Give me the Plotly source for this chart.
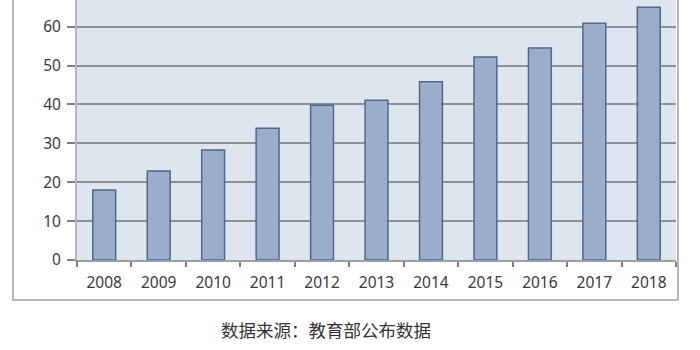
import plotly.graph_objects as go

years = ["2008", "2009", "2010", "2011", "2012", "2013", "2014", "2015", "2016", "2017", "2018"]
values = [18.0, 22.9, 28.3, 33.9, 39.8, 41.1, 45.8, 52.2, 54.5, 60.9, 65.0]
y_ticks = [0, 10, 20, 30, 40, 50, 60]
source_text = "数据来源：教育部公布数据"

fig = go.Figure()
fig.add_trace(go.Bar(
    x=years, y=values,
    width=0.42,
    marker=dict(color="#9aaecb", line=dict(color="#4d6a8c", width=1.5)),
    hoverinfo="x+y",
))

fig.update_layout(
    width=700, height=350,
    margin=dict(l=77, r=24, t=0, b=90),
    paper_bgcolor="white",
    plot_bgcolor="#dfe5ee",
    showlegend=False,
    font=dict(family="Noto Sans, Open Sans, sans-serif", size=15, color="#3a3a3a"),
    xaxis=dict(
        type="category",
        showgrid=False,
        showline=True, linecolor="#9a9ea6", linewidth=1.5,
        ticks="outside", ticklen=5, tickcolor="#7a7e86", tickwidth=1.5,
        tickson="boundaries",
        tickfont=dict(size=15.5),
        ticklabelstandoff=8,
        fixedrange=True,
    ),
    yaxis=dict(
        range=[0, 66.85],
        tickvals=y_ticks,
        showgrid=True, gridcolor="#8c9099", gridwidth=1.5,
        showline=True, linecolor="#b3b7be", linewidth=2,
        ticks="outside", ticklen=8, tickcolor="#7a7e86", tickwidth=1.5,
        tickfont=dict(size=15.5),
        ticklabelstandoff=3,
        zeroline=False,
        fixedrange=True,
    ),
    shapes=[dict(
        type="rect", xref="paper", yref="paper",
        x0=(13 - 77) / 599, x1=(678 - 77) / 599,
        y0=(260 - 300) / 260, y1=1.2,
        line=dict(color="#a0a0a0", width=1.5),
        fillcolor="rgba(0,0,0,0)", layer="below",
    )],
    annotations=[dict(
        text=source_text, xref="paper", yref="paper",
        x=(326 - 77) / 599, y=(260 - 329) / 260,
        xanchor="center", yanchor="middle", showarrow=False,
        font=dict(family="Noto Sans CJK SC, sans-serif", size=17.5, color="#333333"),
    )],
)

fig.write_html("out.html")
